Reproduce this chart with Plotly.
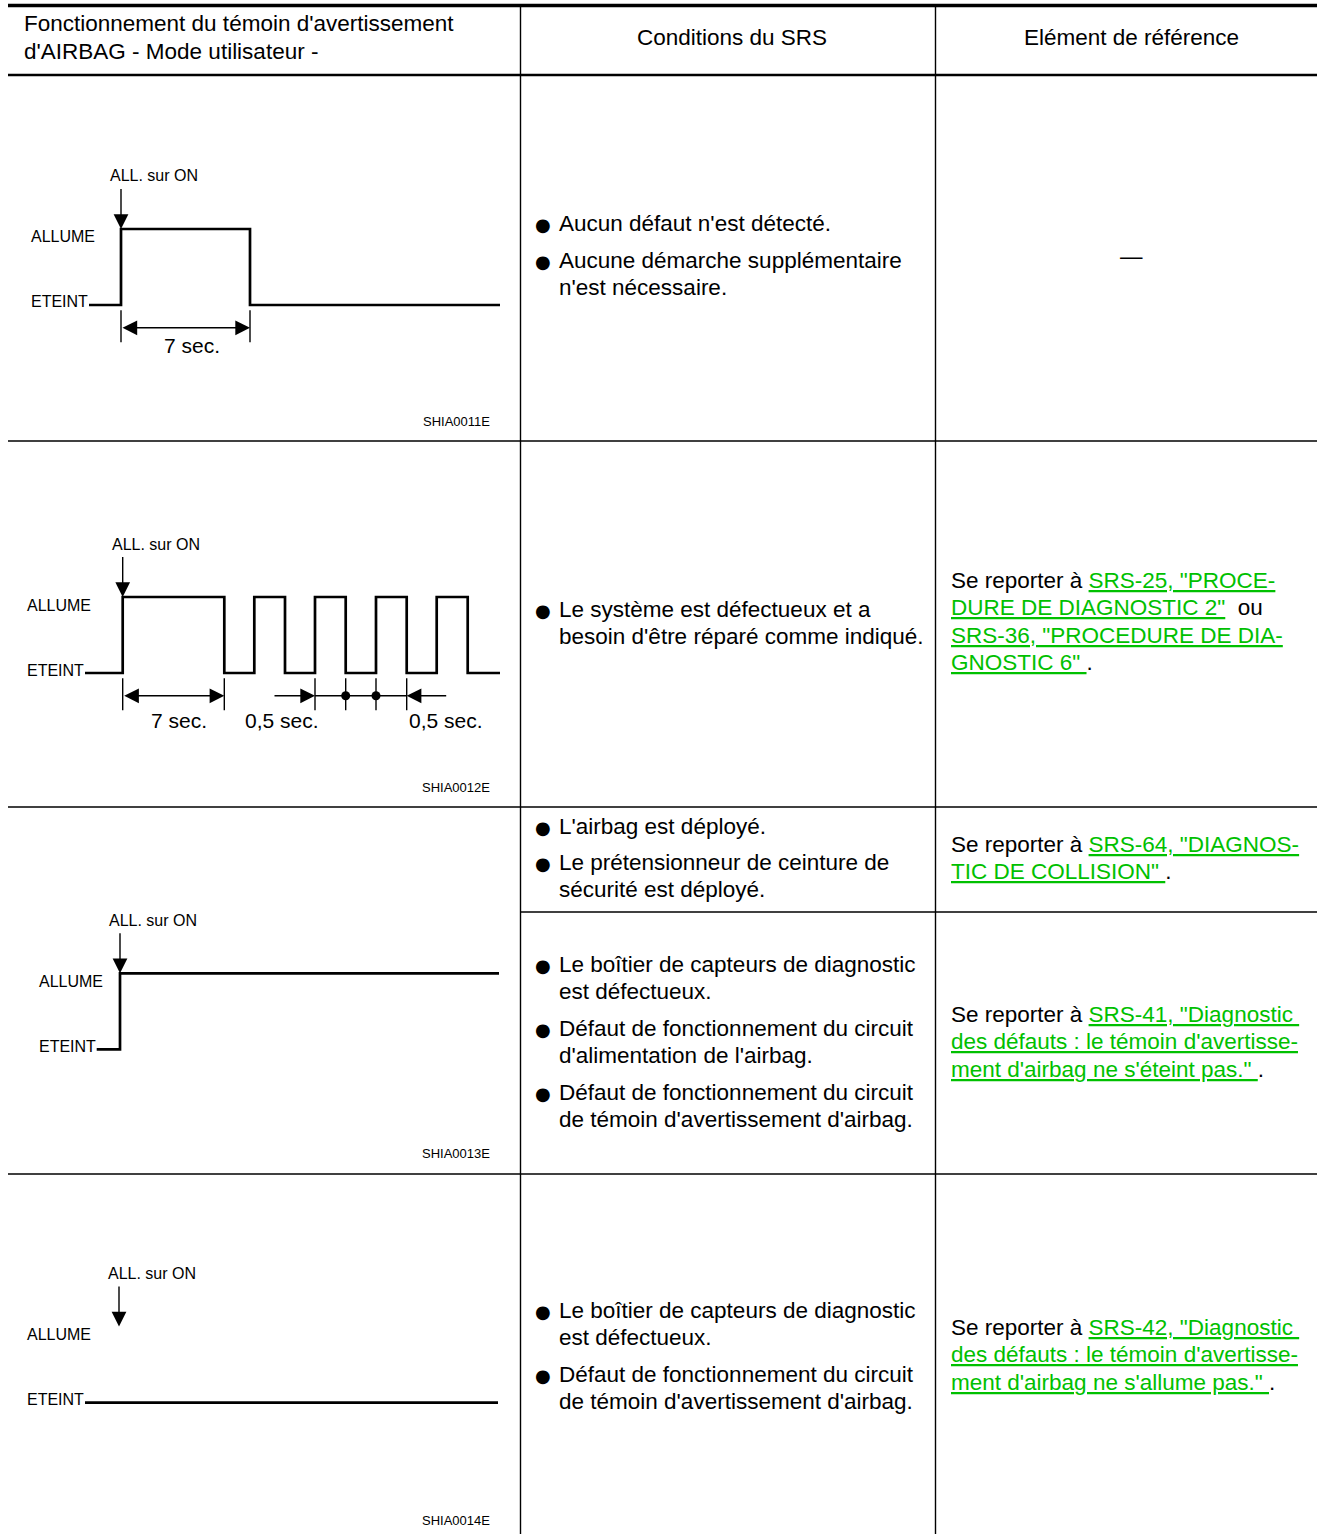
import plotly.graph_objects as go

W, H = 1317, 1534
FONT = "Liberation Sans, Arial, Helvetica, sans-serif"
GREEN = "#00c000"

# ---------------- table grid ----------------
COL_X = [8, 520.5, 935.5, 1317]
ROW_Y = [75, 441, 807, 1174, 1534]
SPLIT_Y = 912  # row 3 split in columns 2-3

HEADER_COL1 = ["Fonctionnement du témoin d'avertissement", "d'AIRBAG - Mode utilisateur -"]
HEADER_COL2 = "Conditions du SRS"
HEADER_COL3 = "Elément de référence"

# ---------------- waveform data (diagram units, level 1 = ALLUME, 0 = ETEINT) ----------------
W1_T = [89, 121, 250, 500]
W1_L = [0, 1, 0, 0]
W2_T = [85, 122.7, 224.3, 254.3, 285, 315, 345.7, 376, 406.7, 436.7, 467.7, 500]
W2_L = [0, 1, 0, 1, 0, 1, 0, 1, 0, 1, 0, 0]
W3_T = [96.7, 120, 499]
W3_L = [0, 1, 1]
W4_T = [85, 498]
W4_L = [0, 0]
IGN_ON_T = [121, 122.7, 120, 119]
LEVEL_NAMES = ["ALLUME", "ETEINT"]
IGN_LABEL = "ALL. sur ON"
FIG_CODES = ["SHIA0011E", "SHIA0012E", "SHIA0013E", "SHIA0014E"]
SEC7 = "7 sec."
SEC05 = "0,5 sec."

# ---------------- text content ----------------
CONDITIONS = [
    [["Aucun défaut n'est détecté."], ["Aucune démarche supplémentaire", "n'est nécessaire."]],
    [["Le système est défectueux et a", "besoin d'être réparé comme indiqué."]],
    [["L'airbag est déployé."], ["Le prétensionneur de ceinture de", "sécurité est déployé."]],
    [["Le boîtier de capteurs de diagnostic", "est défectueux."],
     ["Défaut de fonctionnement du circuit", "d'alimentation de l'airbag."],
     ["Défaut de fonctionnement du circuit", "de témoin d'avertissement d'airbag."]],
    [["Le boîtier de capteurs de diagnostic", "est défectueux."],
     ["Défaut de fonctionnement du circuit", "de témoin d'avertissement d'airbag."]],
]
COND_Y = [[223, 260], [609], [826, 862], [964, 1028, 1092], [1310, 1374]]


def link(s):
    return '<span style="color:%s"><u>%s</u></span>' % (GREEN, s)


REFERENCES = [
    ['Se reporter à ' + link('SRS-25, "PROCE-'),
     link('DURE DE DIAGNOSTIC 2"') + '  ou',
     link('SRS-36, "PROCEDURE DE DIA-'),
     link('GNOSTIC 6" ') + '.'],
    ['Se reporter à ' + link('SRS-64, "DIAGNOS-'),
     link('TIC DE COLLISION" ') + '.'],
    ['Se reporter à ' + link('SRS-41, "Diagnostic '),
     link("des défauts : le témoin d'avertisse-"),
     link("ment d'airbag ne s'éteint pas.\" ") + '.'],
    ['Se reporter à ' + link('SRS-42, "Diagnostic '),
     link("des défauts : le témoin d'avertisse-"),
     link("ment d'airbag ne s'allume pas.\" ") + '.'],
]
REF_Y = [580, 844, 1014, 1327]
DASH_TEXT = "—"

# ---------------- layout geometry ----------------
LEVEL_PX = [(229, 305), (597, 673), (973.3, 1049.3), (1326.5, 1402.7)]
LABEL_X = [29, 24.5, 36.5, 24.5]
CODE_Y = [421, 787, 1153, 1520]
DIAG_W = 520.5
LINE_H = 27.6
BODY = 22.5

fig = go.Figure()
annotations = []
shapes = []

layout_axes = dict(
    xaxis=dict(range=[0, W], domain=[0, 1], visible=False, fixedrange=True),
    yaxis=dict(range=[H, 0], domain=[0, 1], visible=False, fixedrange=True),
)


def hline(y, x0, x1, w):
    shapes.append(dict(type="line", xref="x", yref="y", x0=x0, x1=x1, y0=y, y1=y,
                       line=dict(color="black", width=w)))


def vline(x, y0, y1, w):
    shapes.append(dict(type="line", xref="x", yref="y", x0=x, x1=x, y0=y0, y1=y1,
                       line=dict(color="black", width=w)))


hline(5.5, COL_X[0], COL_X[-1], 3.5)
hline(ROW_Y[0], COL_X[0], COL_X[-1], 2.5)
for y in ROW_Y[1:-1]:
    hline(y, COL_X[0], COL_X[-1], 1.4)
hline(SPLIT_Y, COL_X[1], COL_X[-1], 1.4)
for x in COL_X[1:-1]:
    vline(x, 7, H, 1.4)


def txt(x, y, s, size=BODY, anchor="left", color="black", family=FONT, xref="x", yref="y", yshift=0):
    annotations.append(dict(x=x, y=y, xref=xref, yref=yref, text=s, showarrow=False,
                            xanchor=anchor, yanchor="middle", yshift=yshift,
                            font=dict(family=family, size=size, color=color)))


def arrow(x, y, ax, ay, xa, ya, both=False):
    d = dict(x=x, y=y, ax=ax, ay=ay, xref=xa, yref=ya, axref=xa, ayref=ya,
             text=" ", font=dict(size=1), showarrow=True, arrowhead=2,
             arrowsize=2.1, arrowwidth=1.4, arrowcolor="black", standoff=0)
    if both:
        d.update(arrowside="end+start", startarrowhead=2, startarrowsize=2.1, startstandoff=0)
    annotations.append(d)


# ---- headers
txt(22, 23, HEADER_COL1[0])
txt(22, 51, HEADER_COL1[1])
txt(732, 37, HEADER_COL2, anchor="center")
txt(1131, 37, HEADER_COL3, anchor="center")

# ---- conditions column
for bullets, ys in zip(CONDITIONS, COND_Y):
    for lines, y0 in zip(bullets, ys):
        txt(543, y0 + 1, "●", size=18, anchor="center", family="DejaVu Sans")
        for k, line in enumerate(lines):
            txt(557, y0 + k * LINE_H, line)

# ---- reference column
txt(1131, 256, DASH_TEXT, anchor="center")
for lines, y0 in zip(REFERENCES, REF_Y):
    for k, line in enumerate(lines):
        txt(949, y0 + k * LINE_H, line)

# ---- waveform diagrams
waves = [(W1_T, W1_L), (W2_T, W2_L), (W3_T, W3_L), (W4_T, W4_L)]
for i, (T, L) in enumerate(waves):
    top, bot = ROW_Y[i], ROW_Y[i + 1]
    p1, p0 = LEVEL_PX[i]
    s = p0 - p1
    xa, ya = "x%d" % (i + 2), "y%d" % (i + 2)
    layout_axes["xaxis%d" % (i + 2)] = dict(domain=[0, DIAG_W / W], range=[0, DIAG_W], visible=False,
                                            anchor=ya, fixedrange=True)
    layout_axes["yaxis%d" % (i + 2)] = dict(domain=[1 - bot / H, 1 - top / H],
                                            range=[-(bot - p0) / s, 1 + (p1 - top) / s],
                                            visible=False, anchor=xa, fixedrange=True)

    fig.add_trace(go.Scatter(x=T, y=L, mode="lines", line=dict(shape="hv", color="black", width=2.7),
                             xaxis=xa, yaxis=ya, hoverinfo="skip", showlegend=False))

    on = IGN_ON_T[i]
    txt(LABEL_X[i], 1, LEVEL_NAMES[0], size=16, xref=xa, yref=ya, yshift=-8)
    txt(LABEL_X[i], 0, LEVEL_NAMES[1], size=16, xref=xa, yref=ya, yshift=3)
    txt(on - 13, 1 + 53 / s, IGN_LABEL, size=16, xref=xa, yref=ya)
    arrow(on, 1.0, on, 1 + 42 / s, xa, ya)
    txt(456, CODE_Y[i], FIG_CODES[i], size=13, anchor="center", xref=xa, yref="y")

    if i in (0, 1):
        ticks = [T[1], T[2]] + ([T[5], T[6], T[7], T[8]] if i == 1 else [])
        tx, ty = [], []
        for t in ticks:
            tx += [t, t, None]
            ty += [-0.07, -0.49, None]
        fig.add_trace(go.Scatter(x=tx, y=ty, mode="lines", line=dict(color="black", width=1.4),
                                 xaxis=xa, yaxis=ya, hoverinfo="skip", showlegend=False))
        dim_y = -0.3
        arrow(T[2], dim_y, T[1], dim_y, xa, ya, both=True)
        if i == 0:
            txt(191.5, -0.53, SEC7, size=21, anchor="center", xref=xa, yref=ya)
        else:
            txt(178.5, -0.62, SEC7, size=21, anchor="center", xref=xa, yref=ya)
            txt(282, -0.62, SEC05, size=21, anchor="center", xref=xa, yref=ya)
            txt(446, -0.62, SEC05, size=21, anchor="center", xref=xa, yref=ya)
            arrow(T[5], dim_y, T[5] - 42, dim_y, xa, ya)
            arrow(T[8], dim_y, T[8] + 41, dim_y, xa, ya)
            fig.add_trace(go.Scatter(x=[T[5], T[8]], y=[dim_y, dim_y], mode="lines",
                                     line=dict(color="black", width=1.4),
                                     xaxis=xa, yaxis=ya, hoverinfo="skip", showlegend=False))
            fig.add_trace(go.Scatter(x=[T[6], T[7]], y=[dim_y, dim_y], mode="markers",
                                     marker=dict(color="black", size=9),
                                     xaxis=xa, yaxis=ya, hoverinfo="skip", showlegend=False))

fig.update_layout(
    width=W, height=H, autosize=False,
    margin=dict(l=0, r=0, t=0, b=0, pad=0),
    paper_bgcolor="white", plot_bgcolor="rgba(0,0,0,0)",
    showlegend=False,
    annotations=annotations, shapes=shapes,
    font=dict(family=FONT, color="black"),
    **layout_axes,
)

fig.write_html("out.html", config={"displayModeBar": False},
               post_script="document.body.style.margin='0';")
